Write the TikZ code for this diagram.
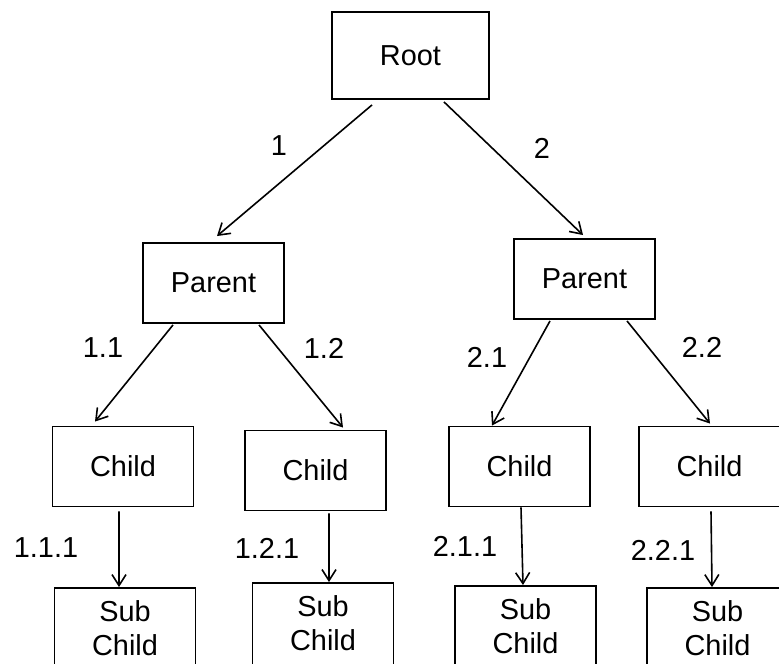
\documentclass[tikz,border=0pt]{standalone}
\usepackage{fontspec}
\setmainfont{Liberation Sans}
\usetikzlibrary{arrows.meta}

\begin{document}
\begin{tikzpicture}[x=1bp,y=-1bp,
  box/.style={draw=black,line width=1.9bp,fill=white,inner sep=0pt,
    font=\fontsize{29}{35}\selectfont,align=center},
  rootbox/.style={box,minimum width=157bp,minimum height=87bp},
  treebox/.style={box,minimum width=141bp,minimum height=80bp},
  % the bottom row runs off the lower edge of the page
  subbox/.style={box,minimum width=141bp,minimum height=115bp},
  edge/.style={line width=1.6bp,-{Straight Barb[length=11bp,width=14bp,line width=1.6bp]}},
  lbl/.style={inner sep=0pt,font=\fontsize{29}{34}\selectfont}]
\useasboundingbox (0,0) rectangle (779,664);
\clip (0,0) rectangle (779,664);

% boxes
\node[rootbox] (root) at (410.5,55.5) {Root};
\node[treebox] (p1) at (213.5,283) {Parent};
\node[treebox] (p2) at (584.5,279) {Parent};
\node[treebox] (c1) at (123,466.5) {Child};
\node[treebox] (c2) at (315.5,470.5) {Child};
\node[treebox] (c3) at (519.5,466.5) {Child};
\node[treebox] (c4) at (709.5,466.5) {Child};
\node[subbox] (s1) at (125,645.5) {Sub\\Child\\\hphantom{x}};
\node[subbox] (s2) at (323,640.5) {Sub\\Child\\\hphantom{x}};
\node[subbox] (s3) at (525.5,643.5) {Sub\\Child\\\hphantom{x}};
\node[subbox] (s4) at (717.5,645.5) {Sub\\Child\\\hphantom{x}};

% connectors
\draw[edge] ([xshift=-38.5bp,yshift=-5bp]root.south) -- ([xshift=3.5bp,yshift=6bp]p1.north);
\draw[edge] ([xshift=33.5bp,yshift=-2bp]root.south) -- ([xshift=-1.5bp,yshift=3bp]p2.north);
\draw[edge] ([xshift=-40.5bp,yshift=-1bp]p1.south) -- ([xshift=-28bp,yshift=4bp]c1.north);
\draw[edge] ([xshift=45.5bp,yshift=-1bp]p1.south) -- ([xshift=27.5bp,yshift=2bp]c2.north);
\draw[edge] ([xshift=-34.5bp,yshift=-1bp]p2.south) -- ([xshift=-27.5bp,yshift=0bp]c3.north);
\draw[edge] ([xshift=42.5bp,yshift=-1bp]p2.south) -- ([xshift=0.5bp,yshift=2bp]c4.north);
\draw[edge] ([xshift=-4bp,yshift=-4bp]c1.south) -- ([xshift=-6bp]s1.north);
\draw[edge] ([xshift=13.5bp,yshift=-2bp]c2.south) -- ([xshift=6bp]s2.north);
\draw[edge] ([xshift=1.5bp,yshift=0bp]c3.south) -- ([xshift=-2.5bp]s3.north);
\draw[edge] ([xshift=1.5bp,yshift=-4bp]c4.south) -- ([xshift=-5.5bp]s4.north);

% edge labels
\node[lbl] (l1) at (279,146) {1};
\node[lbl] (l2) at (542,148) {2};
\node[lbl] (l11) at (103,348) {1.1};
\node[lbl] (l12) at (324,348) {1.2};
\node[lbl] (l21) at (487,357) {2.1};
\node[lbl] (l22) at (702,347) {2.2};
\node[lbl] (l111) at (46,548) {1.1.1};
\node[lbl] (l121) at (267,548) {1.2.1};
\node[lbl] (l211) at (465,546) {2.1.1};
\node[lbl] (l221) at (663,550) {2.2.1};
\end{tikzpicture}
\end{document}
